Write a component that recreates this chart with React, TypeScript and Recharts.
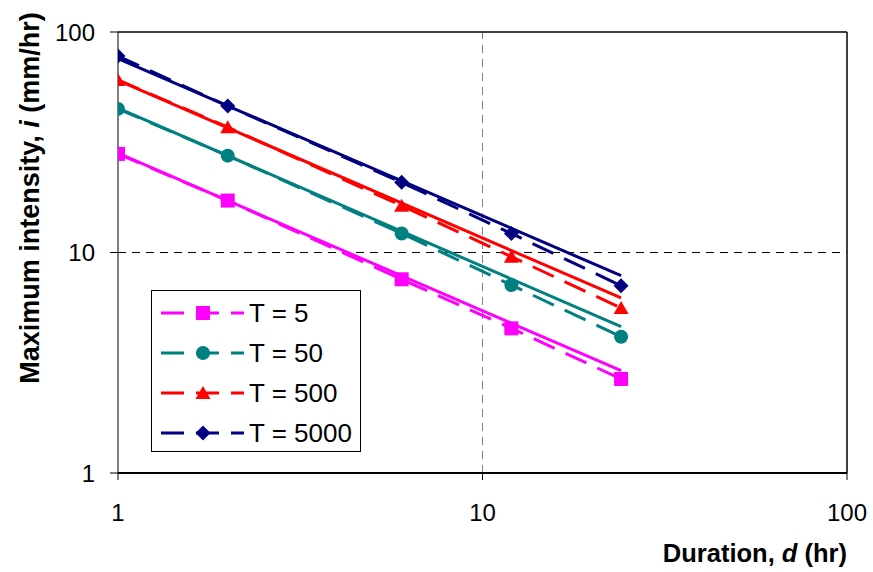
import React from 'react';
import { LineChart, Line, XAxis, YAxis, ReferenceLine, Legend, Label } from 'recharts';

const durations = [1, 2, 6, 12, 24];
const t5 = [28.0, 17.2, 7.56, 4.53, 2.67];
const t50 = [44.8, 27.5, 12.2, 7.12, 4.15];
const t500 = [60.6, 37.0, 16.3, 9.57, 5.6];
const t5000 = [77.8, 46.2, 20.8, 12.2, 7.07];

const fitDurations = [1, 24];
const fit5 = [28.2, 2.91];
const fit50 = [45.2, 4.61];
const fit500 = [60.3, 6.22];
const fit5000 = [75.8, 7.85];

const axisTicks = [1, 10, 100];
const seriesNames = ['T = 5', 'T = 50', 'T = 500', 'T = 5000'];
const seriesColors = ['#FF00FF', '#008080', '#FF0000', '#000080'];
const seriesShapes = ['square', 'circle', 'triangle', 'diamond'];

const toRows = (xs: number[], ys: number[]) => xs.map((d, k) => ({ d, i: ys[k] }));

const observed = [t5, t50, t500, t5000].map((ys) => toRows(durations, ys));
const fitted = [fit5, fit50, fit500, fit5000].map((ys) => toRows(fitDurations, ys));

const FONT = '"Liberation Sans", Arial, sans-serif';
const DASH = '23 12';

function Marker({ cx, cy, shape, color }: { cx: number; cy: number; shape: string; color: string }) {
  if (cx == null || cy == null) return null;
  if (shape === 'square') return <rect x={cx - 7} y={cy - 7} width={14} height={14} fill={color} />;
  if (shape === 'circle') return <circle cx={cx} cy={cy} r={7} fill={color} />;
  if (shape === 'triangle')
    return <polygon points={`${cx},${cy - 7} ${cx - 7.5},${cy + 6} ${cx + 7.5},${cy + 6}`} fill={color} />;
  return <polygon points={`${cx},${cy - 7.5} ${cx + 7.5},${cy} ${cx},${cy + 7.5} ${cx - 7.5},${cy}`} fill={color} />;
}

const makeDot = (shape: string, color: string) => (props: any) => (
  <Marker key={`${shape}-${props.index}`} cx={props.cx} cy={props.cy} shape={shape} color={color} />
);

function LegendBox() {
  return (
    <div
      style={{
        width: 208,
        height: 160,
        border: '1px solid #000',
        background: '#fff',
        fontFamily: FONT,
        position: 'relative',
      }}
    >
      {seriesNames.map((name, k) => (
        <div key={name} style={{ position: 'absolute', left: 0, top: 2 + k * 40, height: 40, width: 208 }}>
          <svg width={96} height={40} style={{ position: 'absolute', left: 0, top: 0 }}>
            <line x1={9} y1={20} x2={92} y2={20} stroke={seriesColors[k]} strokeWidth={3} strokeDasharray={DASH} />
            <Marker cx={51} cy={20} shape={seriesShapes[k]} color={seriesColors[k]} />
          </svg>
          <span
            style={{
              position: 'absolute',
              left: 97,
              top: 5,
              fontSize: 26,
              lineHeight: '30px',
              color: '#000',
              whiteSpace: 'nowrap',
            }}
          >
            {name}
          </span>
        </div>
      ))}
    </div>
  );
}

const YTitle = (props: any) => {
  const vb = props.viewBox || { x: 0, y: 32 };
  const x = vb.x + 30;
  const y = vb.y + 166;
  return (
    <text
      x={x}
      y={y}
      transform={`rotate(-90 ${x} ${y})`}
      textAnchor="middle"
      dominantBaseline="central"
      fontSize={27}
      fontWeight="bold"
      fontFamily={FONT}
      fill="#000"
    >
      Maximum intensity, <tspan fontStyle="italic">i</tspan> (mm/hr)
    </text>
  );
};

const XTitle = (props: any) => {
  const vb = props.viewBox || { x: 118, y: 473, width: 729 };
  return (
    <text
      x={vb.x + vb.width}
      y={vb.y + 89}
      textAnchor="end"
      fontSize={25.5}
      fontWeight="bold"
      fontFamily={FONT}
      fill="#000"
    >
      Duration, <tspan fontStyle="italic">d</tspan> (hr)
    </text>
  );
};

export default function App() {
  return (
    <div style={{ position: 'absolute', left: 0, top: 0, width: 873, height: 572, background: '#fff' }}>
      <LineChart width={873} height={572} margin={{ top: 32, right: 26, left: 0, bottom: 0 }}>
        <XAxis
          type="number"
          dataKey="d"
          scale="log"
          domain={[1, 100]}
          ticks={axisTicks}
          allowDataOverflow
          height={99}
          axisLine={{ stroke: '#000', strokeWidth: 2 }}
          tickLine={{ stroke: '#000', strokeWidth: 1 }}
          tickSize={7}
          tickMargin={24}
          tick={{ fontSize: 24, fill: '#000', fontFamily: FONT }}
        >
          <Label content={<XTitle />} />
        </XAxis>
        <YAxis
          type="number"
          dataKey="i"
          scale="log"
          domain={[1, 100]}
          ticks={axisTicks}
          allowDataOverflow
          width={118}
          axisLine={{ stroke: '#000', strokeWidth: 1 }}
          tickLine={{ stroke: '#000', strokeWidth: 1 }}
          tickSize={8}
          tickMargin={15}
          tick={{ fontSize: 24, fill: '#000', fontFamily: FONT }}
        >
          <Label content={<YTitle />} />
        </YAxis>
        <ReferenceLine y={10} stroke="#000" strokeDasharray="8 6" strokeWidth={1} />
        <ReferenceLine x={10} stroke="#808080" strokeDasharray="8 6" strokeWidth={1} />
        <ReferenceLine y={100} stroke="#000" strokeWidth={1.5} />
        <ReferenceLine x={100} stroke="#000" strokeWidth={1.5} />
        {fitted.map((rows, k) => (
          <Line
            key={`fit-${k}`}
            data={rows}
            dataKey="i"
            stroke={seriesColors[k]}
            strokeWidth={3}
            dot={false}
            activeDot={false}
            legendType="none"
            isAnimationActive={false}
          />
        ))}
        {observed.map((rows, k) => (
          <Line
            key={`obs-${k}`}
            data={rows}
            dataKey="i"
            name={seriesNames[k]}
            stroke={seriesColors[k]}
            strokeWidth={3}
            strokeDasharray={DASH}
            dot={makeDot(seriesShapes[k], seriesColors[k])}
            activeDot={false}
            isAnimationActive={false}
          />
        ))}
        <Legend
          layout="vertical"
          align="center"
          verticalAlign="middle"
          content={<LegendBox />}
          wrapperStyle={{ left: 151, top: 290, width: 210, height: 162 }}
        />
      </LineChart>
    </div>
  );
}
